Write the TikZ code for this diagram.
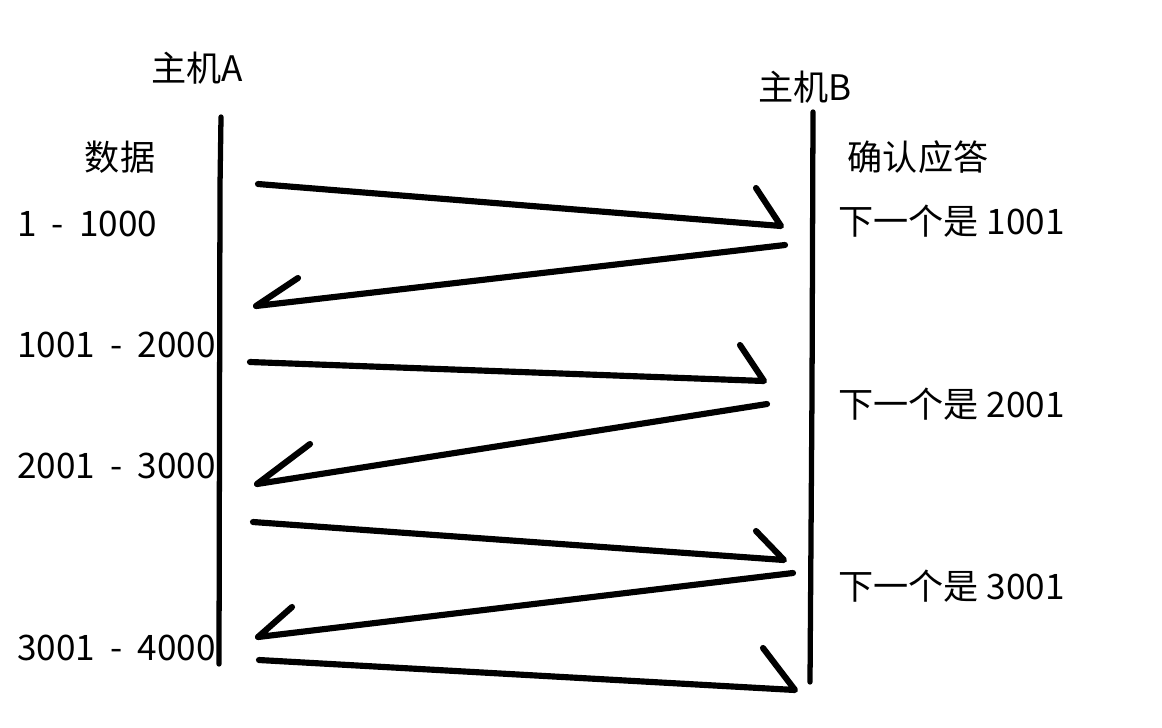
\documentclass[tikz,border=0pt]{standalone}
\usepackage{fontspec}
\setmainfont{Noto Sans CJK SC}
\usetikzlibrary{positioning}
\newcommand{\rangesep}{\hspace{0.3cm}-\hspace{0.3cm}}

\begin{document}
\begin{tikzpicture}[x=0.02cm, y=-0.02cm,
    every node/.style={font=\fontsize{20}{24}\selectfont, inner sep=0pt},
    host/.style={line width=3pt, line cap=round},
    wire/.style={line width=3.5pt, line cap=round, line join=round}]
    \useasboundingbox (0,0) rectangle (1162,727);

    % Hosts and their time lines
    \node (hostA) at (197,68) {主机A};
    \node (hostB) at (805,87) {主机B};
    \coordinate (topA) at (221,117);
    \coordinate (midA) at (220,186);
    \coordinate (botA) at (219,664);
    \coordinate (topB) at (813,112);
    \coordinate (midB) at (812,392);
    \coordinate (botB) at (810,682);
    \draw[host] (topA) -- (midA) -- (botA);
    \draw[host] (topB) -- (midB) -- (botB);

    % Column headings
    \node (data) at (120,157) {数据};
    \node (ack) at (918,157) {确认应答};

    % Data ranges sent by A
    \node[anchor=west] (seg1) at (17,224) {1\rangesep1000};
    \node[anchor=west] (seg2) at (17,345) {1001\rangesep2000};
    \node[anchor=west] (seg3) at (17,466) {2001\rangesep3000};
    \node[anchor=west] (seg4) at (17,648) {3001\rangesep4000};

    % Acknowledgements from B
    \node[anchor=west] (next1) at (838,221) {下一个是 1001};
    \node[anchor=west] (next2) at (838,404) {下一个是 2001};
    \node[anchor=west] (next3) at (838,586) {下一个是 3001};

    % Segment and ack strokes (start, end, barb)
    \coordinate (s1) at (258,184); \coordinate (e1) at (781,226); \coordinate (b1) at (756,188);
    \coordinate (s2) at (785,245); \coordinate (e2) at (256,306); \coordinate (b2) at (298,278);
    \coordinate (s3) at (250,362); \coordinate (e3) at (764,381); \coordinate (b3) at (740,345);
    \coordinate (s4) at (767,404); \coordinate (e4) at (257,484); \coordinate (b4) at (310,444);
    \coordinate (s5) at (253,522); \coordinate (e5) at (784,560); \coordinate (b5) at (756,531);
    \coordinate (s6) at (793,573); \coordinate (e6) at (258,637); \coordinate (b6) at (292,607);
    \coordinate (s7) at (259,660); \coordinate (e7) at (795,690); \coordinate (b7) at (763,648);

    \draw[wire] (s1) -- (e1) -- (b1);
    \draw[wire] (s2) -- (e2) -- (b2);
    \draw[wire] (s3) -- (e3) -- (b3);
    \draw[wire] (s4) -- (e4) -- (b4);
    \draw[wire] (s5) -- (e5) -- (b5);
    \draw[wire] (s6) -- (e6) -- (b6);
    \draw[wire] (s7) -- (e7) -- (b7);
\end{tikzpicture}
\end{document}
